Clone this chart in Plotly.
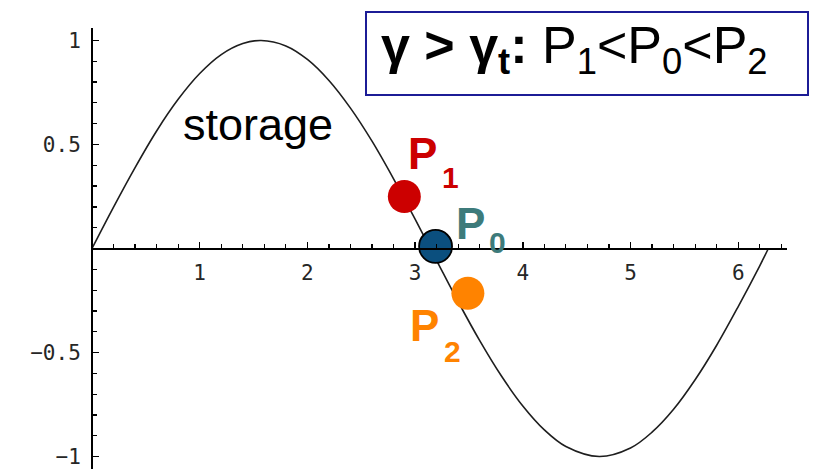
import plotly.graph_objects as go

W, H = 821, 469

# ---- data ----
curve_x = [0.0, 0.2, 0.4, 0.6, 0.8, 1.0, 1.2, 1.4, 1.57, 1.8, 2.0, 2.2, 2.4, 2.6, 2.8, 3.0,
           3.2, 3.4, 3.6, 3.8, 4.0, 4.2, 4.4, 4.71, 5.0, 5.2, 5.4, 5.6, 5.8, 6.0, 6.2, 6.28]
curve_y = [0.0, 0.199, 0.389, 0.565, 0.717, 0.841, 0.932, 0.985, 1.0, 0.974, 0.909, 0.808,
           0.675, 0.516, 0.335, 0.141, -0.058, -0.256, -0.443, -0.612, -0.757, -0.872,
           -0.952, -1.0, -0.959, -0.883, -0.773, -0.631, -0.465, -0.279, -0.083, 0.0]

point_names = ["P1", "P0", "P2"]
point_x = [2.90, 3.19, 3.49]
point_y = [0.25, 0.01, -0.215]
point_colors = ["#cc0000", "#0b4f7e", "#ff8300"]
label_colors = ["#cc0000", "#3d7b7b", "#ff8300"]
label_main = ["P", "P", "P"]
label_sub = ["1", "0", "2"]

x_tick_vals = [1, 2, 3, 4, 5, 6]
x_tick_text = ["1", "2", "3", "4", "5", "6"]
y_tick_vals = [-1, -0.5, 0.5, 1]
y_tick_text = ["\u22121", "\u22120.5", "0.5", "1"]

storage_text = "storage"
box_text = "<b>\u03b3 &gt; \u03b3<sub>t</sub>:</b> P<sub>1</sub>&lt;P<sub>0</sub>&lt;P<sub>2</sub>"

# ---- figure ----
def px(xp):
    return xp / W

def py(yp):
    return 1 - yp / H

fig = go.Figure()
fig.add_trace(go.Scatter(x=curve_x, y=curve_y, mode="lines",
                         line=dict(color="#1e1e1e", width=1.6, shape="spline", smoothing=1.0),
                         hoverinfo="skip", showlegend=False))
fig.add_trace(go.Scatter(x=point_x, y=point_y, mode="markers", text=point_names,
                         marker=dict(size=33, color=point_colors,
                                     line=dict(color=["rgba(0,0,0,0)", "#000000", "rgba(0,0,0,0)"],
                                               width=[0, 1.8, 0]),
                                     opacity=1),
                         showlegend=False))

tick_font = dict(family="DejaVu Sans Mono", size=21, color="#262626")

fig.update_layout(
    width=W, height=H, autosize=False,
    margin=dict(l=0, r=0, t=0, b=0, pad=0),
    paper_bgcolor="white", plot_bgcolor="white",
    showlegend=False,
    xaxis=dict(domain=[92 / W, 787 / W], range=[0, 6.453],
               anchor="free", position=(H - 248.5) / H, side="bottom",
               showline=True, linecolor="#000000", linewidth=2,
               ticks="inside", ticklen=6, tickwidth=1.4, tickcolor="#000000",
               tickmode="array", tickvals=x_tick_vals, ticktext=x_tick_text,
               tickfont=tick_font, ticklabelstandoff=5,
               minor=dict(ticks="inside", ticklen=3.5, tickwidth=1.2, tickcolor="#000000",
                          dtick=0.2, tick0=0, showgrid=False),
               showgrid=False, zeroline=False, fixedrange=True),
    yaxis=dict(domain=[0, (H - 28) / H], range=[-1.060, 1.060],
               anchor="free", position=92 / W, side="left",
               showline=True, linecolor="#000000", linewidth=2,
               ticks="inside", ticklen=6, tickwidth=1.4, tickcolor="#000000",
               tickmode="array", tickvals=y_tick_vals, ticktext=y_tick_text,
               tickfont=tick_font, ticklabelstandoff=6,
               minor=dict(ticks="inside", ticklen=3.5, tickwidth=1.2, tickcolor="#000000",
                          dtick=0.1, tick0=0, showgrid=False),
               showgrid=False, zeroline=False, fixedrange=True),
)

# title box
fig.add_shape(type="rect", xref="paper", yref="paper",
              x0=px(366), x1=px(808), y0=py(95), y1=py(12),
              line=dict(color="#1c1c96", width=2), fillcolor="rgba(0,0,0,0)")
fig.add_annotation(xref="paper", yref="paper", x=px(379), y=py(49),
                   xanchor="left", yanchor="middle", showarrow=False,
                   text=box_text,
                   font=dict(family="Liberation Sans, Arial, sans-serif", size=52, color="#000000"))

# storage label
fig.add_annotation(xref="paper", yref="paper", x=px(181), y=py(125),
                   xanchor="left", yanchor="middle", showarrow=False,
                   text=storage_text,
                   font=dict(family="Liberation Sans, Arial, sans-serif", size=45, color="#000000"))

# point labels (main letter and subscript)
main_pos = [(406, 153), (454, 223), (408, 325)]
sub_pos = [(440, 177), (487, 242), (442, 351)]
for i in range(3):
    fig.add_annotation(xref="paper", yref="paper", x=px(main_pos[i][0]), y=py(main_pos[i][1]),
                       xanchor="left", yanchor="middle", showarrow=False,
                       text="<b>" + label_main[i] + "</b>",
                       font=dict(family="Liberation Sans, Arial, sans-serif", size=44,
                                 color=label_colors[i]))
    fig.add_annotation(xref="paper", yref="paper", x=px(sub_pos[i][0]), y=py(sub_pos[i][1]),
                       xanchor="left", yanchor="middle", showarrow=False,
                       text="<b>" + label_sub[i] + "</b>",
                       font=dict(family="Liberation Sans, Arial, sans-serif", size=30,
                                 color=label_colors[i]))

fig.write_html("out.html", config={"displayModeBar": False, "staticPlot": True},
               post_script="document.body.style.margin='0';document.body.style.padding='0';")
